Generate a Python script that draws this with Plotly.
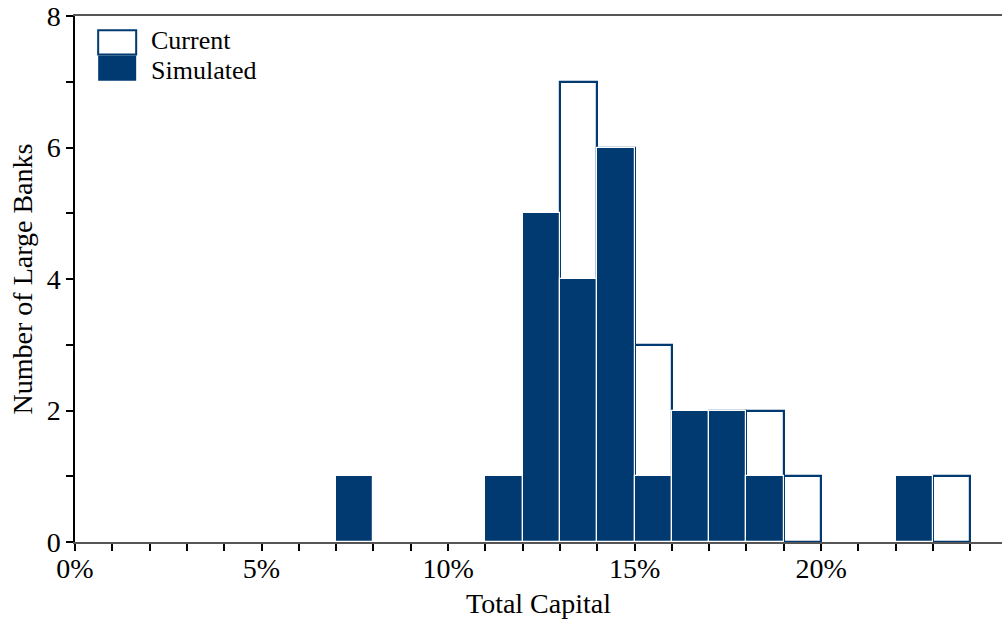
import plotly.graph_objects as go

# Histogram of total capital ratios (1-percentage-point bins, left edges in %)
bin_left = [7, 8, 9, 10, 11, 12, 13, 14, 15, 16, 17, 18, 19, 20, 21, 22, 23]
current = [0, 0, 0, 0, 0, 1, 7, 6, 3, 1, 2, 2, 1, 0, 0, 0, 1]
simulated = [1, 0, 0, 0, 1, 5, 4, 6, 1, 2, 2, 1, 0, 0, 0, 1, 0]

x_ticks = [0, 5, 10, 15, 20]
x_tick_labels = ["0%", "5%", "10%", "15%", "20%"]
y_ticks = [0, 2, 4, 6, 8]

NAVY = "#003a70"
FONT = "Liberation Serif"
BIN_W = 1.0


def nonzero(counts):
    xs = [b + BIN_W / 2 for b, c in zip(bin_left, counts) if c > 0]
    ys = [c for c in counts if c > 0]
    return xs, ys


fig = go.Figure()

cx, cy = nonzero(current)
fig.add_trace(go.Bar(
    x=cx, y=cy, width=BIN_W, name="Current",
    marker=dict(color="white", line=dict(color=NAVY, width=2.2)),
    showlegend=False,
))

sx, sy = nonzero(simulated)
fig.add_trace(go.Bar(
    x=sx, y=sy, width=BIN_W, name="Simulated",
    marker=dict(color=NAVY, line=dict(color="white", width=1.2)),
    showlegend=False,
))

# Legend drawn as swatches + labels in the upper-left corner
legend_items = [
    ("Current", "white", 0.973, 0.927, 0.9535),
    ("Simulated", NAVY, 0.925, 0.877, 0.8955),
]
for label, fill, y1, y0, ytext in legend_items:
    fig.add_shape(type="rect", xref="paper", yref="paper",
                  x0=0.025, x1=0.066, y0=y0, y1=y1,
                  fillcolor=fill, line=dict(color=NAVY, width=2 if fill == "white" else 0))
    fig.add_annotation(xref="paper", yref="paper", x=0.080, y=ytext,
                       text=label, showarrow=False, xanchor="left", yanchor="middle",
                       font=dict(family=FONT, size=26, color="black"))

fig.update_layout(
    width=1002, height=620,
    margin=dict(l=75, r=0, t=16, b=78),
    paper_bgcolor="white", plot_bgcolor="white",
    barmode="overlay", bargap=0,
    font=dict(family=FONT, size=28, color="black"),
    xaxis=dict(
        range=[0, 24.85], tickmode="array", tickvals=x_ticks, ticktext=x_tick_labels,
        ticks="outside", ticklen=7, tickwidth=1.5, tickcolor="black",
        ticklabelstandoff=-6,
        minor=dict(dtick=1, ticks="outside", ticklen=7, tickwidth=1.5, tickcolor="black"),
        showline=True, linecolor="#555555", linewidth=1.5, mirror=True,
        showgrid=False, zeroline=False,
        title=dict(text="Total Capital", standoff=10, font=dict(size=28)),
        tickfont=dict(size=28),
    ),
    yaxis=dict(
        range=[0, 8], tickvals=y_ticks,
        ticks="outside", ticklen=7, tickwidth=1.5, tickcolor="black",
        minor=dict(dtick=1, ticks="outside", ticklen=7, tickwidth=1.5, tickcolor="black"),
        showline=True, linecolor="black", linewidth=1.5,
        showgrid=False, zeroline=False,
        title=dict(text="Number of Large Banks", standoff=6, font=dict(size=28)),
        tickfont=dict(size=28),
    ),
)

fig.write_html("out.html")
